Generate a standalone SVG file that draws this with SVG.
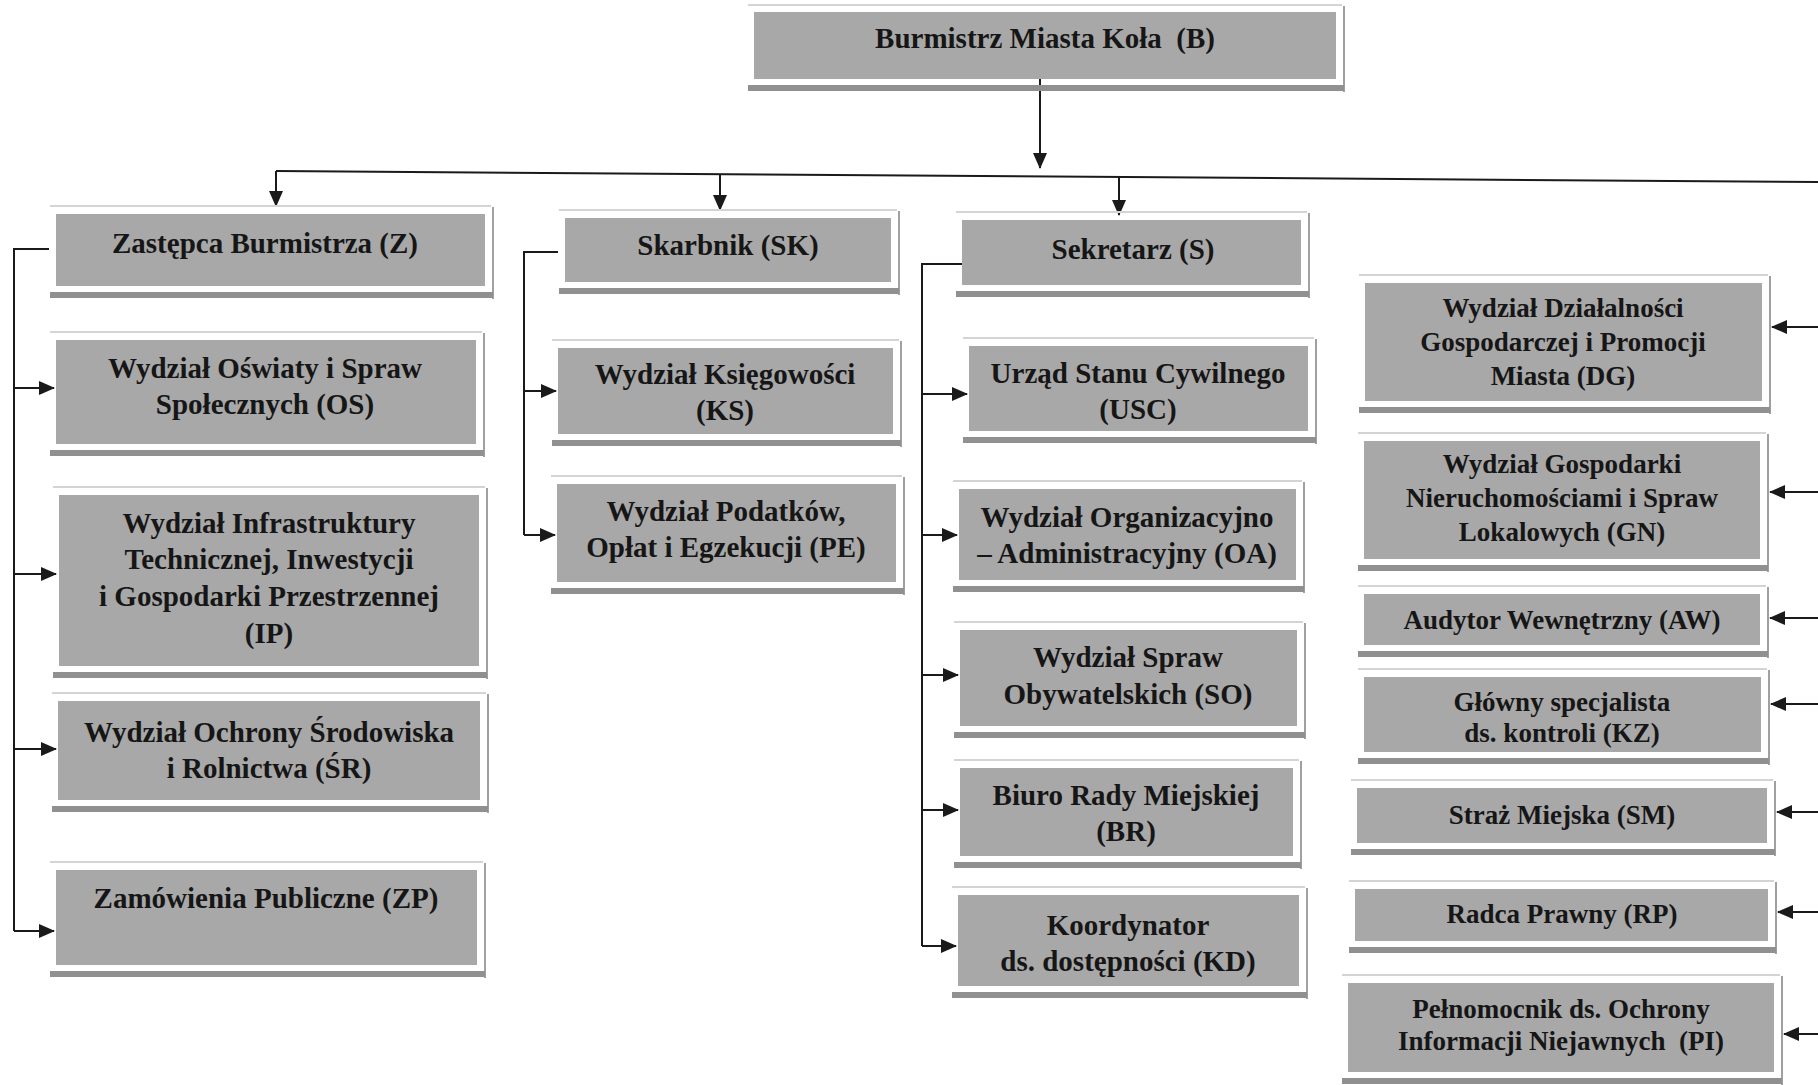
<svg xmlns="http://www.w3.org/2000/svg" width="1818" height="1085" viewBox="0 0 1818 1085">
<defs>
<marker id="ah" markerUnits="userSpaceOnUse" markerWidth="16" markerHeight="14" refX="15" refY="7" orient="auto">
<path d="M0,0 L16,7 L0,14 Z" fill="#1a1a1a"/>
</marker>
</defs>
<style>
.box{fill:#a8a8a8}
.edge{stroke:#a0a0a0;stroke-width:2;fill:none}
.top{stroke:#d4d4d4;stroke-width:2;fill:none}
.strip{fill:#909090}
.t{font-family:"Liberation Serif","Times New Roman",serif;font-weight:bold;font-size:29px;fill:#161616;text-anchor:middle;white-space:pre}
.r{font-size:27px}
.c{stroke:#1a1a1a;stroke-width:2;fill:none}
.a{stroke:#1a1a1a;stroke-width:2;fill:none;marker-end:url(#ah)}
</style>
<rect width="1818" height="1085" fill="#ffffff"/>

<g id="connectors">
<path class="a" d="M1040 79 V168"/>
<path class="c" d="M276 171 L1818 182"/>
<path class="a" d="M276 171 V206"/>
<path class="a" d="M720 174 V210"/>
<path class="a" d="M1119 177 V215"/>
<path class="c" d="M49 249 H14 V931"/>
<path class="a" d="M14 388 H54"/>
<path class="a" d="M14 574 H56"/>
<path class="a" d="M14 749 H56"/>
<path class="a" d="M14 931 H54"/>
<path class="c" d="M558 252 H524 V535"/>
<path class="a" d="M524 391 H556"/>
<path class="a" d="M524 535 H555"/>
<path class="c" d="M962 264 H922 V946"/>
<path class="a" d="M922 394 H967"/>
<path class="a" d="M922 535 H957"/>
<path class="a" d="M922 675 H958"/>
<path class="a" d="M922 810 H958"/>
<path class="a" d="M922 946 H956"/>
<path class="a" d="M1818 327 H1772"/>
<path class="a" d="M1818 492 H1770"/>
<path class="a" d="M1818 618 H1770"/>
<path class="a" d="M1818 704 H1771"/>
<path class="a" d="M1818 812 H1777"/>
<path class="a" d="M1818 912 H1778"/>
<path class="a" d="M1818 1034 H1784"/>
</g>

<g id="n-B"><path class="top" d="M748 5 H1342"/><rect class="box" x="754" y="12" width="582" height="67"/><path class="edge" d="M1344 6 V92"/><rect class="strip" x="748" y="85" width="596" height="6"/><text class="t" x="1045" y="48">Burmistrz Miasta Koła  (B)</text></g>

<g id="n-Z"><path class="top" d="M50 206 H491"/><rect class="box" x="56" y="214" width="429" height="72"/><path class="edge" d="M493 207 V299"/><rect class="strip" x="50" y="292" width="443" height="6"/><text class="t" x="265" y="253">Zastępca Burmistrza (Z)</text></g>
<g id="n-OS"><path class="top" d="M50 332 H482"/><rect class="box" x="56" y="340" width="420" height="104"/><path class="edge" d="M484 333 V457"/><rect class="strip" x="50" y="450" width="434" height="6"/><text class="t" x="265" y="378">Wydział Oświaty i Spraw</text><text class="t" x="265" y="414">Społecznych (OS)</text></g>
<g id="n-IP"><path class="top" d="M53 487 H485"/><rect class="box" x="59" y="495" width="420" height="171"/><path class="edge" d="M487 488 V679"/><rect class="strip" x="53" y="672" width="434" height="6"/><text class="t" x="269" y="533">Wydział Infrastruktury</text><text class="t" x="269" y="569">Technicznej, Inwestycji</text><text class="t" x="269" y="606">i Gospodarki Przestrzennej</text><text class="t" x="269" y="643">(IP)</text></g>
<g id="n-SR"><path class="top" d="M52 693 H486"/><rect class="box" x="58" y="701" width="422" height="99"/><path class="edge" d="M488 694 V813"/><rect class="strip" x="52" y="806" width="436" height="6"/><text class="t" x="269" y="742">Wydział Ochrony Środowiska</text><text class="t" x="269" y="778">i Rolnictwa (ŚR)</text></g>
<g id="n-ZP"><path class="top" d="M50 862 H483"/><rect class="box" x="56" y="870" width="421" height="95"/><path class="edge" d="M485 863 V978"/><rect class="strip" x="50" y="971" width="435" height="6"/><text class="t" x="266" y="908">Zamówienia Publiczne (ZP)</text></g>

<g id="n-SK"><path class="top" d="M559 210 H897"/><rect class="box" x="565" y="218" width="326" height="64"/><path class="edge" d="M899 211 V295"/><rect class="strip" x="559" y="288" width="340" height="6"/><text class="t" x="728" y="255">Skarbnik (SK)</text></g>
<g id="n-KS"><path class="top" d="M552 340 H899"/><rect class="box" x="558" y="348" width="335" height="86"/><path class="edge" d="M901 341 V447"/><rect class="strip" x="552" y="440" width="349" height="6"/><text class="t" x="725" y="384">Wydział Księgowości</text><text class="t" x="725" y="420">(KS)</text></g>
<g id="n-PE"><path class="top" d="M551 476 H902"/><rect class="box" x="557" y="484" width="339" height="98"/><path class="edge" d="M904 477 V595"/><rect class="strip" x="551" y="588" width="353" height="6"/><text class="t" x="726" y="521">Wydział Podatków,</text><text class="t" x="726" y="557">Opłat i Egzekucji (PE)</text></g>

<g id="n-S"><path class="top" d="M956 212 H1307"/><rect class="box" x="962" y="220" width="339" height="65"/><path class="edge" d="M1309 213 V298"/><rect class="strip" x="956" y="291" width="353" height="6"/><text class="t" x="1133" y="259">Sekretarz (S)</text></g>
<g id="n-USC"><path class="top" d="M963 338 H1314"/><rect class="box" x="969" y="346" width="339" height="85"/><path class="edge" d="M1316 339 V444"/><rect class="strip" x="963" y="437" width="353" height="6"/><text class="t" x="1138" y="383">Urząd Stanu Cywilnego</text><text class="t" x="1138" y="419">(USC)</text></g>
<g id="n-OA"><path class="top" d="M953 481 H1302"/><rect class="box" x="959" y="489" width="337" height="91"/><path class="edge" d="M1304 482 V593"/><rect class="strip" x="953" y="586" width="351" height="6"/><text class="t" x="1127" y="527">Wydział Organizacyjno</text><text class="t" x="1127" y="563">– Administracyjny (OA)</text></g>
<g id="n-SO"><path class="top" d="M954 622 H1303"/><rect class="box" x="960" y="630" width="337" height="96"/><path class="edge" d="M1305 623 V739"/><rect class="strip" x="954" y="732" width="351" height="6"/><text class="t" x="1128" y="667">Wydział Spraw</text><text class="t" x="1128" y="704">Obywatelskich (SO)</text></g>
<g id="n-BR"><path class="top" d="M954 760 H1299"/><rect class="box" x="960" y="768" width="333" height="88"/><path class="edge" d="M1301 761 V869"/><rect class="strip" x="954" y="862" width="347" height="6"/><text class="t" x="1126" y="805">Biuro Rady Miejskiej</text><text class="t" x="1126" y="841">(BR)</text></g>
<g id="n-KD"><path class="top" d="M952 887 H1305"/><rect class="box" x="958" y="895" width="341" height="91"/><path class="edge" d="M1307 888 V999"/><rect class="strip" x="952" y="992" width="355" height="6"/><text class="t" x="1128" y="935">Koordynator</text><text class="t" x="1128" y="971">ds. dostępności (KD)</text></g>

<g id="n-DG"><path class="top" d="M1359 275 H1768"/><rect class="box" x="1365" y="283" width="397" height="118"/><path class="edge" d="M1770 276 V414"/><rect class="strip" x="1359" y="407" width="411" height="6"/><text class="t r" x="1563" y="317">Wydział Działalności</text><text class="t r" x="1563" y="351">Gospodarczej i Promocji</text><text class="t r" x="1563" y="385">Miasta (DG)</text></g>
<g id="n-GN"><path class="top" d="M1358 433 H1766"/><rect class="box" x="1364" y="441" width="396" height="118"/><path class="edge" d="M1768 434 V572"/><rect class="strip" x="1358" y="565" width="410" height="6"/><text class="t r" x="1562" y="473">Wydział Gospodarki</text><text class="t r" x="1562" y="507">Nieruchomościami i Spraw</text><text class="t r" x="1562" y="541">Lokalowych (GN)</text></g>
<g id="n-AW"><path class="top" d="M1358 586 H1766"/><rect class="box" x="1364" y="594" width="396" height="51"/><path class="edge" d="M1768 587 V658"/><rect class="strip" x="1358" y="651" width="410" height="6"/><text class="t r" x="1562" y="629">Audytor Wewnętrzny (AW)</text></g>
<g id="n-KZ"><path class="top" d="M1358 669 H1767"/><rect class="box" x="1364" y="677" width="397" height="75"/><path class="edge" d="M1769 670 V765"/><rect class="strip" x="1358" y="758" width="411" height="6"/><text class="t r" x="1562" y="711">Główny specjalista</text><text class="t r" x="1562" y="742">ds. kontroli (KZ)</text></g>
<g id="n-SM"><path class="top" d="M1351 780 H1773"/><rect class="box" x="1357" y="788" width="410" height="55"/><path class="edge" d="M1775 781 V856"/><rect class="strip" x="1351" y="849" width="424" height="6"/><text class="t r" x="1562" y="824">Straż Miejska (SM)</text></g>
<g id="n-RP"><path class="top" d="M1349 881 H1774"/><rect class="box" x="1355" y="889" width="413" height="52"/><path class="edge" d="M1776 882 V954"/><rect class="strip" x="1349" y="947" width="427" height="6"/><text class="t r" x="1562" y="923">Radca Prawny (RP)</text></g>
<g id="n-PI"><path class="top" d="M1342 975 H1780"/><rect class="box" x="1348" y="983" width="426" height="89"/><path class="edge" d="M1782 976 V1085"/><rect class="strip" x="1342" y="1078" width="440" height="6"/><text class="t r" x="1561" y="1018">Pełnomocnik ds. Ochrony</text><text class="t r" x="1561" y="1050">Informacji Niejawnych  (PI)</text></g>
</svg>
